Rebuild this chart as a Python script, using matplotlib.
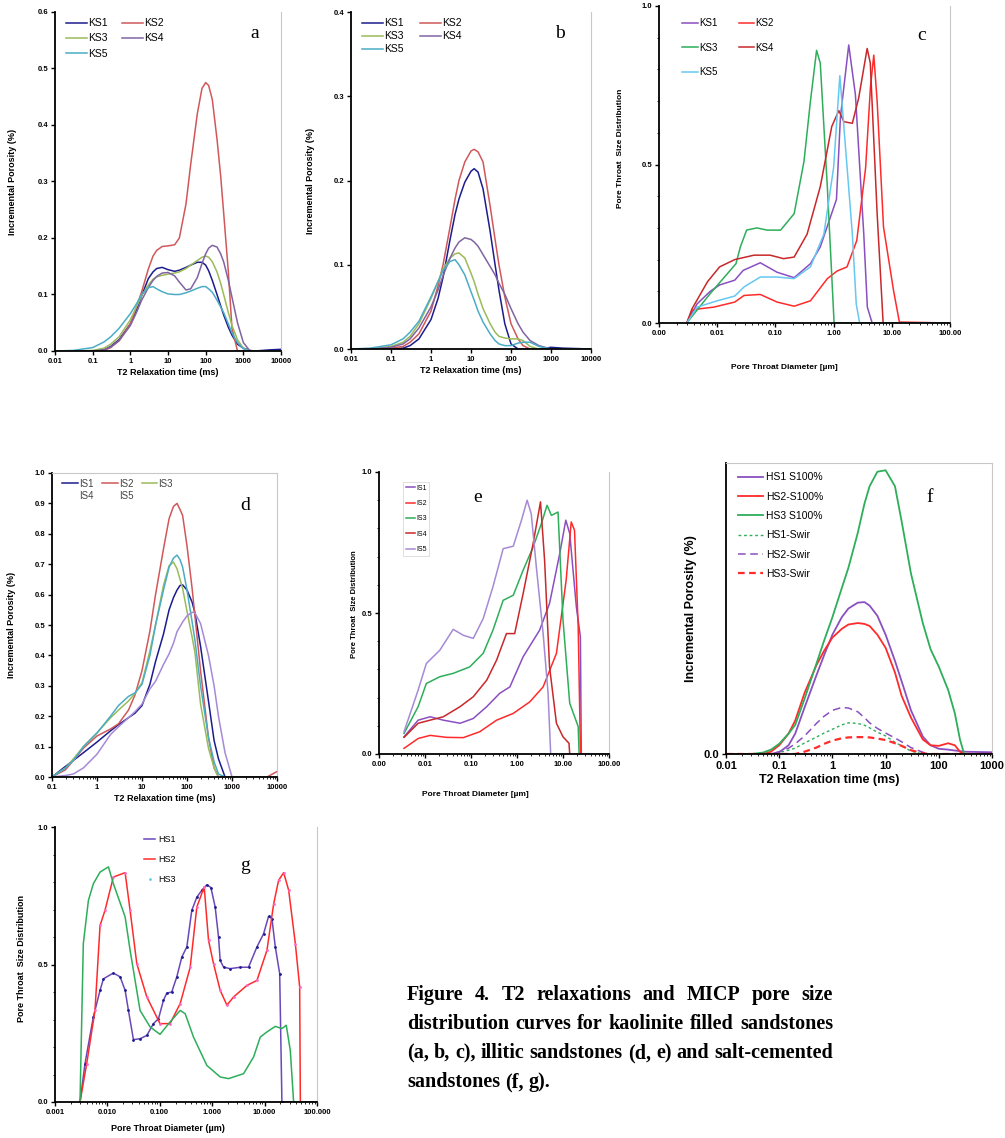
import matplotlib
matplotlib.use('Agg')
import matplotlib.pyplot as plt
from matplotlib.lines import Line2D
from matplotlib.ticker import NullFormatter, MultipleLocator

# ---------------- data ----------------
# a: T2 distributions, kaolinite sandstones
t2_a = [0.01, 0.03, 0.1, 0.2, 0.3, 0.5, 1, 1.5, 2, 3, 4, 5, 7, 10, 15, 20, 30, 40, 60, 80,
        100, 120, 150, 200, 250, 300, 400, 500, 700, 1000, 1500, 2000, 5000, 10000]
ks1_a = [0, 0, 0, 0.002, 0.008, 0.02, 0.048, 0.075, 0.098, 0.128, 0.14, 0.146, 0.148, 0.144, 0.141, 0.143, 0.148, 0.152, 0.157, 0.157,
         0.152, 0.142, 0.125, 0.1, 0.08, 0.064, 0.042, 0.028, 0.012, 0.005, 0.001, 0, 0.002, 0.003]
ks2_a = [0, 0, 0, 0.001, 0.006, 0.018, 0.048, 0.08, 0.105, 0.145, 0.168, 0.178, 0.185, 0.186, 0.188, 0.2, 0.26, 0.33, 0.42, 0.465,
         0.475, 0.47, 0.445, 0.375, 0.31, 0.245, 0.14, 0.04, 0, 0, 0, 0, 0, 0]
ks3_a = [0, 0, 0.001, 0.005, 0.012, 0.025, 0.055, 0.08, 0.098, 0.117, 0.127, 0.131, 0.134, 0.136, 0.138, 0.14, 0.146, 0.152, 0.16, 0.166,
         0.168, 0.166, 0.158, 0.14, 0.12, 0.1, 0.068, 0.045, 0.02, 0.005, 0, 0, 0, 0]
ks4_a = [0, 0, 0, 0.002, 0.007, 0.018, 0.045, 0.07, 0.09, 0.112, 0.125, 0.132, 0.138, 0.139, 0.133, 0.122, 0.108, 0.11, 0.13, 0.155,
         0.172, 0.182, 0.187, 0.184, 0.172, 0.158, 0.125, 0.095, 0.05, 0.015, 0, 0, 0, 0]
ks5_a = [0, 0.001, 0.006, 0.016, 0.025, 0.04, 0.066, 0.085, 0.1, 0.112, 0.114, 0.11, 0.105, 0.101, 0.1, 0.1, 0.103, 0.106, 0.111, 0.114,
         0.114, 0.11, 0.104, 0.09, 0.078, 0.068, 0.048, 0.032, 0.015, 0.004, 0, 0, 0, 0]

# b: T2 distributions, kaolinite sandstones (second set)
t2_b = [0.01, 0.03, 0.1, 0.2, 0.3, 0.5, 1, 1.5, 2, 3, 4, 5, 7, 10, 12, 15, 20, 30, 40, 50,
        70, 100, 150, 200, 300, 500, 1000, 2000, 10000]
ks1_b = [0, 0, 0, 0.001, 0.004, 0.012, 0.035, 0.06, 0.085, 0.13, 0.16, 0.178, 0.198, 0.211, 0.214, 0.21, 0.19, 0.14, 0.1, 0.07,
         0.03, 0.006, 0, 0, 0, 0, 0.002, 0.001, 0]
ks2_b = [0, 0, 0.001, 0.003, 0.008, 0.018, 0.045, 0.075, 0.1, 0.145, 0.178, 0.2, 0.222, 0.235, 0.237, 0.234, 0.222, 0.17, 0.13, 0.1,
         0.062, 0.03, 0.012, 0.004, 0, 0, 0, 0, 0]
ks3_b = [0, 0, 0.003, 0.008, 0.015, 0.03, 0.06, 0.08, 0.095, 0.108, 0.113, 0.114, 0.108, 0.09, 0.08, 0.065, 0.048, 0.03, 0.02, 0.015,
         0.013, 0.012, 0.012, 0.01, 0.003, 0, 0, 0, 0]
ks4_b = [0, 0, 0.002, 0.006, 0.012, 0.025, 0.05, 0.07, 0.087, 0.108, 0.12, 0.127, 0.132, 0.13, 0.127, 0.122, 0.112, 0.098, 0.088, 0.078,
         0.065, 0.048, 0.03, 0.02, 0.01, 0.004, 0, 0, 0]
ks5_b = [0, 0.001, 0.005, 0.012, 0.02, 0.033, 0.062, 0.08, 0.093, 0.104, 0.106, 0.1, 0.088, 0.068, 0.058, 0.045, 0.032, 0.018, 0.01, 0.006,
         0.004, 0.004, 0.007, 0.008, 0.008, 0.003, 0, 0, 0]

# c: MICP pore throat size distribution, kaolinite sandstones
ks1_c_x = [0.003, 0.0045, 0.0076, 0.011, 0.02, 0.028, 0.055, 0.107, 0.21, 0.4, 0.59, 1.12, 1.31, 1.82, 2.37, 3.3, 3.8, 4.6, 100]
ks1_c_y = [0, 0.06, 0.1, 0.12, 0.135, 0.166, 0.19, 0.16, 0.143, 0.187, 0.24, 0.39, 0.65, 0.877, 0.72, 0.28, 0.05, 0, 0]
ks2_c_x = [0.003, 0.0037, 0.0051, 0.0087, 0.02, 0.029, 0.055, 0.107, 0.21, 0.4, 0.78, 1.15, 1.7, 2.5, 3.55, 4.3, 4.9, 5.6, 7.2, 10.7, 13.5, 100]
ks2_c_y = [0, 0.04, 0.045, 0.05, 0.066, 0.087, 0.09, 0.066, 0.053, 0.07, 0.14, 0.164, 0.177, 0.26, 0.49, 0.745, 0.845, 0.70, 0.303, 0.103, 0.003, 0]
ks3_c_x = [0.003, 0.0076, 0.021, 0.025, 0.032, 0.048, 0.072, 0.123, 0.21, 0.31, 0.4, 0.51, 0.59, 0.78, 1.02, 100]
ks3_c_y = [0, 0.093, 0.187, 0.24, 0.293, 0.3, 0.293, 0.293, 0.345, 0.51, 0.70, 0.86, 0.82, 0.43, 0, 0]
ks4_c_x = [0.003, 0.0037, 0.0068, 0.011, 0.02, 0.043, 0.081, 0.138, 0.21, 0.35, 0.59, 0.93, 1.23, 1.5, 2.1, 2.7, 3.77, 4.27, 5.6, 7.1, 100]
ks4_c_y = [0, 0.045, 0.13, 0.177, 0.2, 0.214, 0.214, 0.203, 0.208, 0.28, 0.43, 0.62, 0.67, 0.635, 0.63, 0.71, 0.866, 0.82, 0.345, 0, 0]
ks5_c_x = [0.003, 0.0045, 0.01, 0.02, 0.029, 0.055, 0.107, 0.21, 0.4, 0.68, 1.0, 1.28, 1.5, 2.1, 2.45, 2.8, 100]
ks5_c_y = [0, 0.05, 0.07, 0.085, 0.114, 0.145, 0.145, 0.14, 0.177, 0.28, 0.49, 0.78, 0.62, 0.28, 0.06, 0, 0]

# d: T2 distributions, illitic sandstones
t2_d = [0.1, 0.2, 0.3, 0.5, 1, 2, 3, 5, 7, 10, 15, 20, 30, 40, 50, 60, 70, 80, 100, 130,
        150, 200, 300, 400, 500, 700, 1000, 2000, 6000, 10000]
is1_d = [0, 0.035, 0.055, 0.08, 0.115, 0.152, 0.172, 0.195, 0.21, 0.235, 0.305, 0.38, 0.47, 0.55, 0.59, 0.615, 0.63, 0.632, 0.615, 0.575,
         0.54, 0.43, 0.25, 0.12, 0.06, 0, 0, 0, 0, 0]
is2_d = [0, 0.024, 0.055, 0.095, 0.135, 0.158, 0.175, 0.22, 0.27, 0.35, 0.48, 0.6, 0.75, 0.85, 0.89, 0.9, 0.88, 0.86, 0.76, 0.62,
         0.53, 0.35, 0.13, 0.03, 0, 0, 0, 0, 0, 0.018]
is3_d = [0, 0.03, 0.06, 0.1, 0.145, 0.195, 0.22, 0.25, 0.275, 0.31, 0.415, 0.5, 0.63, 0.695, 0.707, 0.685, 0.65, 0.62, 0.545, 0.46,
         0.41, 0.24, 0.095, 0.03, 0, 0, 0, 0, 0, 0]
is4_d = [0, 0.03, 0.055, 0.1, 0.145, 0.2, 0.235, 0.265, 0.277, 0.305, 0.4, 0.5, 0.615, 0.69, 0.72, 0.73, 0.715, 0.69, 0.615, 0.51,
         0.45, 0.3, 0.13, 0.05, 0.01, 0, 0, 0, 0, 0]
is5_d = [0, 0.005, 0.01, 0.03, 0.075, 0.14, 0.165, 0.195, 0.215, 0.24, 0.29, 0.315, 0.37, 0.405, 0.44, 0.478, 0.495, 0.51, 0.53, 0.542,
         0.54, 0.505, 0.4, 0.3, 0.2, 0.08, 0, 0, 0, 0]

# e: MICP pore throat size distribution, illitic sandstones
is1_e_x = [0.0035, 0.0071, 0.0129, 0.025, 0.058, 0.112, 0.22, 0.42, 0.70, 1.36, 3.1, 5.1, 8.5, 11.5, 14, 19.5, 23.9, 25]
is1_e_y = [0.061, 0.12, 0.132, 0.12, 0.109, 0.126, 0.168, 0.215, 0.238, 0.345, 0.439, 0.534, 0.711, 0.829, 0.782, 0.522, 0.415, 0]
is2_e_x = [0.0035, 0.0071, 0.0129, 0.0295, 0.068, 0.155, 0.36, 0.83, 1.9, 3.7, 7.2, 11.7, 15.1, 17.8, 21.4, 24]
is2_e_y = [0.02, 0.055, 0.066, 0.059, 0.058, 0.079, 0.12, 0.144, 0.185, 0.238, 0.357, 0.616, 0.823, 0.793, 0.451, 0]
is3_e_x = [0.0035, 0.0071, 0.0107, 0.021, 0.041, 0.094, 0.184, 0.30, 0.50, 0.83, 1.36, 2.24, 3.39, 4.5, 5.6, 7.8, 10, 14, 21.4, 22.4]
is3_e_y = [0.073, 0.168, 0.25, 0.274, 0.286, 0.309, 0.357, 0.439, 0.545, 0.563, 0.652, 0.734, 0.817, 0.882, 0.846, 0.858, 0.475, 0.18, 0.097, 0]
is4_e_x = [0.0035, 0.0071, 0.0129, 0.025, 0.058, 0.112, 0.22, 0.36, 0.59, 0.89, 1.36, 2.24, 3.24, 3.98, 5.1, 7.2, 10, 13.5, 14]
is4_e_y = [0.059, 0.109, 0.12, 0.132, 0.168, 0.203, 0.262, 0.333, 0.427, 0.427, 0.569, 0.746, 0.894, 0.687, 0.309, 0.109, 0.061, 0.038, 0]
is5_e_x = [0.0035, 0.0071, 0.0107, 0.021, 0.041, 0.068, 0.112, 0.184, 0.30, 0.50, 0.83, 1.25, 1.66, 2.04, 2.63, 3.7, 4.74, 5.4, 100]
is5_e_y = [0.079, 0.227, 0.321, 0.368, 0.442, 0.421, 0.41, 0.48, 0.593, 0.728, 0.737, 0.829, 0.9, 0.852, 0.664, 0.427, 0.215, 0, 0]

# f: T2 distributions, salt-cemented sandstones (100% saturated and at Swir)
t2_f = [0.01, 0.02, 0.03, 0.05, 0.07, 0.1, 0.15, 0.2, 0.3, 0.5, 0.7, 1, 1.5, 2, 3, 4, 5, 7, 10, 15,
        20, 30, 50, 70, 100, 150, 200, 250, 300, 500, 1000]
hs1_s100 = [0, 0, 0, 0, 0, 0.006, 0.03, 0.07, 0.16, 0.27, 0.34, 0.41, 0.47, 0.5, 0.52, 0.522, 0.51, 0.475, 0.41, 0.32,
            0.25, 0.15, 0.06, 0.03, 0.018, 0.015, 0.012, 0.01, 0.008, 0.007, 0.006]
hs2_s100 = [0, 0, 0, 0, 0.008, 0.03, 0.07, 0.115, 0.21, 0.305, 0.355, 0.4, 0.43, 0.445, 0.45, 0.447, 0.44, 0.41, 0.365, 0.28,
            0.2, 0.125, 0.05, 0.03, 0.028, 0.037, 0.03, 0.008, 0, 0, 0]
hs3_s100 = [0, 0, 0, 0.005, 0.015, 0.035, 0.07, 0.1, 0.19, 0.31, 0.39, 0.47, 0.57, 0.64, 0.76, 0.86, 0.92, 0.97, 0.975, 0.92,
            0.8, 0.62, 0.45, 0.36, 0.3, 0.22, 0.14, 0.05, 0, 0, 0]
hs1_swir = [0, 0, 0, 0, 0, 0.005, 0.013, 0.02, 0.038, 0.058, 0.072, 0.085, 0.1, 0.107, 0.105, 0.099, 0.09, 0.075, 0.062, 0.04,
            0.028, 0.01, 0, 0, 0, 0, 0, 0, 0, 0, 0]
hs2_swir = [0, 0, 0, 0, 0, 0.008, 0.02, 0.035, 0.062, 0.105, 0.13, 0.15, 0.16, 0.158, 0.145, 0.125, 0.107, 0.088, 0.072, 0.055,
            0.042, 0.022, 0.006, 0, 0, 0, 0, 0, 0, 0, 0]
hs3_swir = [0, 0, 0, 0, 0, 0, 0, 0, 0.008, 0.022, 0.035, 0.046, 0.054, 0.057, 0.058, 0.058, 0.057, 0.053, 0.048, 0.037,
            0.028, 0.013, 0.002, 0, 0, 0, 0, 0, 0, 0, 0]

# g: MICP pore throat size distribution, salt-cemented sandstones
hs1_g_x = [0.0030, 0.00374, 0.0054, 0.00724, 0.0084, 0.013, 0.0175, 0.0218, 0.0252, 0.0314, 0.042, 0.0565, 0.0757, 0.0944,
           0.1175, 0.136, 0.169, 0.211, 0.263, 0.328, 0.408, 0.509, 0.635, 0.79, 0.944, 1.14, 1.32, 1.42, 1.65, 2.21,
           3.43, 4.94, 7.14, 9.57, 11.9, 13.8, 16.0, 19.4, 21.4, 100]
hs1_g_y = [0, 0.14, 0.31, 0.406, 0.448, 0.469, 0.455, 0.406, 0.333, 0.227, 0.23, 0.242, 0.285, 0.303,
           0.37, 0.396, 0.4, 0.455, 0.527, 0.564, 0.697, 0.745, 0.77, 0.79, 0.78, 0.709, 0.6, 0.515, 0.49, 0.485,
           0.49, 0.49, 0.564, 0.612, 0.675, 0.667, 0.564, 0.467, 0, 0]
hs2_g_x = [0.0030, 0.00403, 0.0058, 0.00724, 0.0090, 0.013, 0.0218, 0.0271, 0.0364, 0.0565, 0.101, 0.157, 0.245, 0.38,
           0.509, 0.703, 0.851, 1.06, 1.42, 1.91, 2.56, 4.59, 7.14, 11.1, 14.9, 18.5, 23.1, 28.8, 38.6, 46.7, 48.1, 100]
hs2_g_y = [0, 0.14, 0.333, 0.642, 0.697, 0.818, 0.834, 0.697, 0.503, 0.382, 0.285, 0.285, 0.358, 0.49,
           0.709, 0.782, 0.588, 0.503, 0.406, 0.352, 0.382, 0.424, 0.442, 0.552, 0.721, 0.806, 0.834, 0.77, 0.576, 0.418, 0, 0]
hs3_g_x = [0.0030, 0.00347, 0.00434, 0.0054, 0.00724, 0.01045, 0.013, 0.0218, 0.0271, 0.042, 0.0653, 0.101, 0.157, 0.245,
           0.305, 0.44, 0.79, 1.42, 2.05, 3.97, 6.17, 8.26, 11.1, 16.0, 21.4, 25.9, 30.9, 35.8, 100]
hs3_g_y = [0, 0.576, 0.733, 0.794, 0.836, 0.855, 0.794, 0.673, 0.552, 0.333, 0.273, 0.246, 0.291, 0.333,
           0.321, 0.236, 0.133, 0.091, 0.085, 0.103, 0.164, 0.236, 0.255, 0.275, 0.267, 0.279, 0.188, 0, 0]

t2_ticks = [0.01, 0.1, 1, 10, 100, 1000, 10000]
t2_labels = ['0.01', '0.1', '1', '10', '100', '1000', '10000']
d_ticks = [0.1, 1, 10, 100, 1000, 10000]
d_labels = ['0.1', '1', '10', '100', '1000', '10000']
f_ticks = [0.01, 0.1, 1, 10, 100, 1000]
f_labels = ['0.01', '0.1', '1', '10', '100', '1000']
pt_ticks = [0.001, 0.01, 0.1, 1, 10, 100]
pt_labels_2 = ['0.00', '0.01', '0.10', '1.00', '10.00', '100.00']
pt_labels_3 = ['0.001', '0.010', '0.100', '1.000', '10.000', '100.000']

caption = ["Figure 4. T2 relaxations and MICP pore size",
           "distribution curves for kaolinite filled sandstones",
           "(a, b, c), illitic sandstones (d, e) and salt-cemented",
           "sandstones (f, g)."]

# ---------------- colours ----------------
navy, exred, exgreen, expurple, excyan = '#1c1c8e', '#d0585a', '#9bbb59', '#8064a2', '#4bacc6'
red, dred, green, purple, lblue, lpurple = '#ff2b2b', '#c8282a', '#2eae5a', '#8a4fc0', '#66c8f0', '#a58ad6'

W, H = 1005, 1138
plt.rcParams['font.family'] = ['Liberation Sans', 'DejaVu Sans']
fig = plt.figure(figsize=(W / 100, H / 100), dpi=100)


def box(l, t, r, b):
    return [l / W, 1 - b / H, (r - l) / W, (b - t) / H]


def style(ax, xt, xl, ylim, yt, yl, fs=5.5, top=False, yminor=None):
    ax.set_xscale('log')
    ax.set_xlim(xt[0], xt[-1])
    ax.set_ylim(*ylim)
    ax.set_xticks(xt)
    ax.set_xticklabels(xl, fontsize=fs, fontweight='bold')
    ax.xaxis.set_minor_formatter(NullFormatter())
    ax.set_yticks(yt)
    ax.set_yticklabels(yl, fontsize=fs, fontweight='bold')
    if yminor:
        ax.yaxis.set_minor_locator(MultipleLocator(yminor))
    ax.tick_params(axis='both', which='major', length=3, width=1, pad=2)
    ax.tick_params(axis='both', which='minor', length=1.5, width=0.6)
    for s in ['left', 'bottom']:
        ax.spines[s].set_linewidth(1.3)
    ax.spines['right'].set_color('#c8c8c8')
    ax.spines['top'].set_color('#c8c8c8')
    ax.spines['top'].set_visible(top)


def letter(x, y, s):
    fig.text(x / W, 1 - y / H, s, fontsize=14, family='Liberation Serif', ha='center', va='center')


def two_col(lines):
    # legend fills column-first; reorder so rows read KS1 KS2 / KS3 KS4 / KS5
    return [lines[i] for i in (0, 2, 4, 1, 3)]


lw = 1.1

# ---- a ----
ax = fig.add_axes(box(55, 12, 281, 351))
ln = []
for y, c, lab in [(ks1_a, navy, 'KS1'), (ks2_a, exred, 'KS2'), (ks3_a, exgreen, 'KS3'),
                  (ks4_a, expurple, 'KS4'), (ks5_a, excyan, 'KS5')]:
    ln += ax.plot(t2_a, y, color=c, lw=lw, label=lab)
style(ax, t2_ticks, t2_labels, (0, 0.6), [0, 0.1, 0.2, 0.3, 0.4, 0.5, 0.6],
      ['0.0', '0.1', '0.2', '0.3', '0.4', '0.5', '0.6'])
ax.set_xlabel('T2 Relaxation time (ms)', fontsize=6.5, fontweight='bold', labelpad=2)
ax.set_ylabel('Incremental Porosity (%)', fontsize=6.5, fontweight='bold')
ax.yaxis.set_label_coords(-0.17, 0.5)
ax.legend(handles=two_col(ln), ncol=2, loc='upper left', bbox_to_anchor=(0.02, 1.0), frameon=False, fontsize=7.5,
          handlelength=2.0, handletextpad=0.1, columnspacing=1.4, labelspacing=0.5, borderaxespad=0.2)
letter(255, 33, 'a')

# ---- b ----
ax = fig.add_axes(box(351, 12, 591, 349))
ln = []
for y, c, lab in [(ks1_b, navy, 'KS1'), (ks2_b, exred, 'KS2'), (ks3_b, exgreen, 'KS3'),
                  (ks4_b, expurple, 'KS4'), (ks5_b, excyan, 'KS5')]:
    ln += ax.plot(t2_b, y, color=c, lw=lw, label=lab)
style(ax, t2_ticks, t2_labels, (0, 0.4), [0, 0.1, 0.2, 0.3, 0.4], ['0.0', '0.1', '0.2', '0.3', '0.4'])
ax.set_xlabel('T2 Relaxation time (ms)', fontsize=6.5, fontweight='bold', labelpad=2)
ax.set_ylabel('Incremental Porosity (%)', fontsize=6.5, fontweight='bold')
ax.yaxis.set_label_coords(-0.15, 0.5)
ax.legend(handles=two_col(ln), ncol=2, loc='upper left', bbox_to_anchor=(0.02, 1.0), frameon=False, fontsize=7.5,
          handlelength=2.0, handletextpad=0.1, columnspacing=1.6, labelspacing=0.3, borderaxespad=0.2)
letter(560, 33, 'b')

# ---- c ----
ax = fig.add_axes(box(659, 6, 950, 323))
ln = []
for x, y, c, lab in [(ks1_c_x, ks1_c_y, purple, 'KS1'), (ks2_c_x, ks2_c_y, red, 'KS2'),
                     (ks3_c_x, ks3_c_y, green, 'KS3'), (ks4_c_x, ks4_c_y, dred, 'KS4'),
                     (ks5_c_x, ks5_c_y, lblue, 'KS5')]:
    ln += ax.plot(x, y, color=c, lw=lw, label=lab)
style(ax, pt_ticks, pt_labels_2, (0, 1.0), [0, 0.5, 1.0], ['0.0', '0.5', '1.0'], yminor=0.1)
ax.set_xlabel('Pore Throat Diameter [µm]', fontsize=6, fontweight='bold')
ax.xaxis.set_label_coords(0.43, -0.13)
ax.set_ylabel('Pore Throat  Size Distribution', fontsize=6, fontweight='bold')
ax.yaxis.set_label_coords(-0.12, 0.55)
ax.legend(handles=two_col(ln), ncol=2, loc='upper left', bbox_to_anchor=(0.06, 0.98), frameon=False, fontsize=7,
          handlelength=1.6, handletextpad=0.1, columnspacing=2.2, labelspacing=1.5, borderaxespad=0.2)
letter(922, 35, 'c')

# ---- d ----
ax = fig.add_axes(box(52, 473, 277, 777))
for y, c in [(is1_d, navy), (is2_d, exred), (is3_d, exgreen), (is4_d, excyan), (is5_d, lpurple)]:
    ax.plot(t2_d, y, color=c, lw=lw)
style(ax, d_ticks, d_labels, (0, 1.0), [i / 10 for i in range(11)],
      ['0.0', '0.1', '0.2', '0.3', '0.4', '0.5', '0.6', '0.7', '0.8', '0.9', '1.0'], top=True)
ax.set_xlabel('T2 Relaxation time (ms)', fontsize=6.5, fontweight='bold', labelpad=2)
ax.set_ylabel('Incremental Porosity (%)', fontsize=6.5, fontweight='bold')
ax.yaxis.set_label_coords(-0.16, 0.5)
hd = [Line2D([], [], color=navy, lw=lw), Line2D([], [], color='none'), Line2D([], [], color=exred, lw=lw),
      Line2D([], [], color='none'), Line2D([], [], color=exgreen, lw=lw)]
ax.legend(hd, ['IS1', 'IS4', 'IS2', 'IS5', 'IS3'], ncol=3, loc='upper left', bbox_to_anchor=(0.02, 1.0),
          frameon=False, fontsize=7, handlelength=1.6, handletextpad=0.1, columnspacing=0.9,
          labelspacing=0.2, borderaxespad=0.2, labelcolor='#444444')
letter(245, 505, 'd')

# ---- e ----
ax = fig.add_axes(box(379, 472, 609, 754))
for x, y, c, lab in [(is1_e_x, is1_e_y, purple, 'IS1'), (is2_e_x, is2_e_y, red, 'IS2'),
                     (is3_e_x, is3_e_y, green, 'IS3'), (is4_e_x, is4_e_y, dred, 'IS4'),
                     (is5_e_x, is5_e_y, lpurple, 'IS5')]:
    ax.plot(x, y, color=c, lw=lw, label=lab)
style(ax, pt_ticks, pt_labels_2, (0, 1.0), [0, 0.5, 1.0], ['0.0', '0.5', '1.0'], yminor=0.1)
ax.set_xlabel('Pore Throat Diameter [µm]', fontsize=6, fontweight='bold')
ax.xaxis.set_label_coords(0.42, -0.13)
ax.set_ylabel('Pore Throat  Size Distribution', fontsize=5.5, fontweight='bold')
ax.yaxis.set_label_coords(-0.09, 0.53)
lg = ax.legend(loc='upper left', bbox_to_anchor=(0.1, 0.97), frameon=True, fontsize=5,
               handlelength=1.2, handletextpad=0.2, labelspacing=1.2, borderaxespad=0.2, fancybox=False)
lg.get_frame().set_edgecolor('#d0d0d0')
lg.get_frame().set_linewidth(0.6)
letter(478, 497, 'e')

# ---- f ----
ax = fig.add_axes(box(726, 463, 992, 754))
ax.plot(t2_f, hs1_s100, color=purple, lw=1.3, label='HS1 S100%')
ax.plot(t2_f, hs2_s100, color=red, lw=1.3, label='HS2-S100%')
ax.plot(t2_f, hs3_s100, color=green, lw=1.3, label='HS3 S100%')
ax.plot(t2_f, hs1_swir, color=green, lw=1.0, ls=(0, (2, 2)), label='HS1-Swir')
ax.plot(t2_f, hs2_swir, color=purple, lw=1.1, ls=(0, (5, 3)), label='HS2-Swir')
ax.plot(t2_f, hs3_swir, color=red, lw=1.6, ls=(0, (3, 2)), label='HS3-Swir')
style(ax, f_ticks, f_labels, (0, 1.0), [0], ['0.0'], fs=8, top=True)
ax.set_xlabel('T2 Relaxation time (ms)', fontsize=9, fontweight='bold')
ax.xaxis.set_label_coords(0.39, -0.07)
ax.set_ylabel('Incremental Porosity (%)', fontsize=9, fontweight='bold')
ax.yaxis.set_label_coords(-0.11, 0.5)
ax.legend(loc='upper left', bbox_to_anchor=(0.02, 0.99), frameon=False, fontsize=7.5,
          handlelength=2.4, handletextpad=0.3, labelspacing=0.9, borderaxespad=0.2)
letter(930, 497, 'f')

# ---- g ----
ax = fig.add_axes(box(55, 827, 317, 1102))
ax.plot(hs1_g_x, hs1_g_y, color='#6a48b8', lw=1.1, marker='.', ms=2, mfc='#1c1c8e', mec='#1c1c8e', label='HS1')
ax.plot(hs2_g_x, hs2_g_y, color=red, lw=1.1, marker='.', ms=2, mfc='#ff66cc', mec='#ff66cc', label='HS2')
ax.plot(hs3_g_x, hs3_g_y, color=green, lw=1.1)
style(ax, pt_ticks, pt_labels_3, (0, 1.0), [0, 0.5, 1.0], ['0.0', '0.5', '1.0'], yminor=0.1)
ax.set_xlabel('Pore Throat Diameter (µm)', fontsize=6.5, fontweight='bold')
ax.xaxis.set_label_coords(0.43, -0.08)
ax.set_ylabel('Pore Throat  Size Distribution', fontsize=6.5, fontweight='bold')
ax.yaxis.set_label_coords(-0.11, 0.52)
hg = [Line2D([], [], color='#6a48b8', lw=1.1), Line2D([], [], color=red, lw=1.1),
      Line2D([], [], color='none', marker='.', ms=2, mfc='#66ccee', mec='#66ccee')]
ax.legend(hg, ['HS1', 'HS2', 'HS3'], loc='upper left', bbox_to_anchor=(0.32, 0.99), frameon=False,
          fontsize=6.5, handlelength=1.2, handletextpad=0.3, labelspacing=1.2, borderaxespad=0.2)
letter(245, 866, 'g')

# ---- caption (justified) ----
renderer = fig.canvas.get_renderer()
x0, x1 = 407, 833
for i, line in enumerate(caption):
    yb = 1 - (1000 + 29 * i) / H
    words = line.split(' ')
    ts = [fig.text(0, yb, w, fontsize=14.5, fontweight='bold', family='Liberation Serif', va='baseline')
          for w in words]
    widths = [t.get_window_extent(renderer).width for t in ts]
    if i < len(caption) - 1:
        gap = (x1 - x0 - sum(widths)) / (len(words) - 1)
    else:
        gap = ts[0].get_window_extent(renderer).height * 0.25
    xpos = x0
    for t, wd in zip(ts, widths):
        t.set_x(xpos / W)
        xpos += wd + gap

fig.savefig('out.png', dpi=100)
